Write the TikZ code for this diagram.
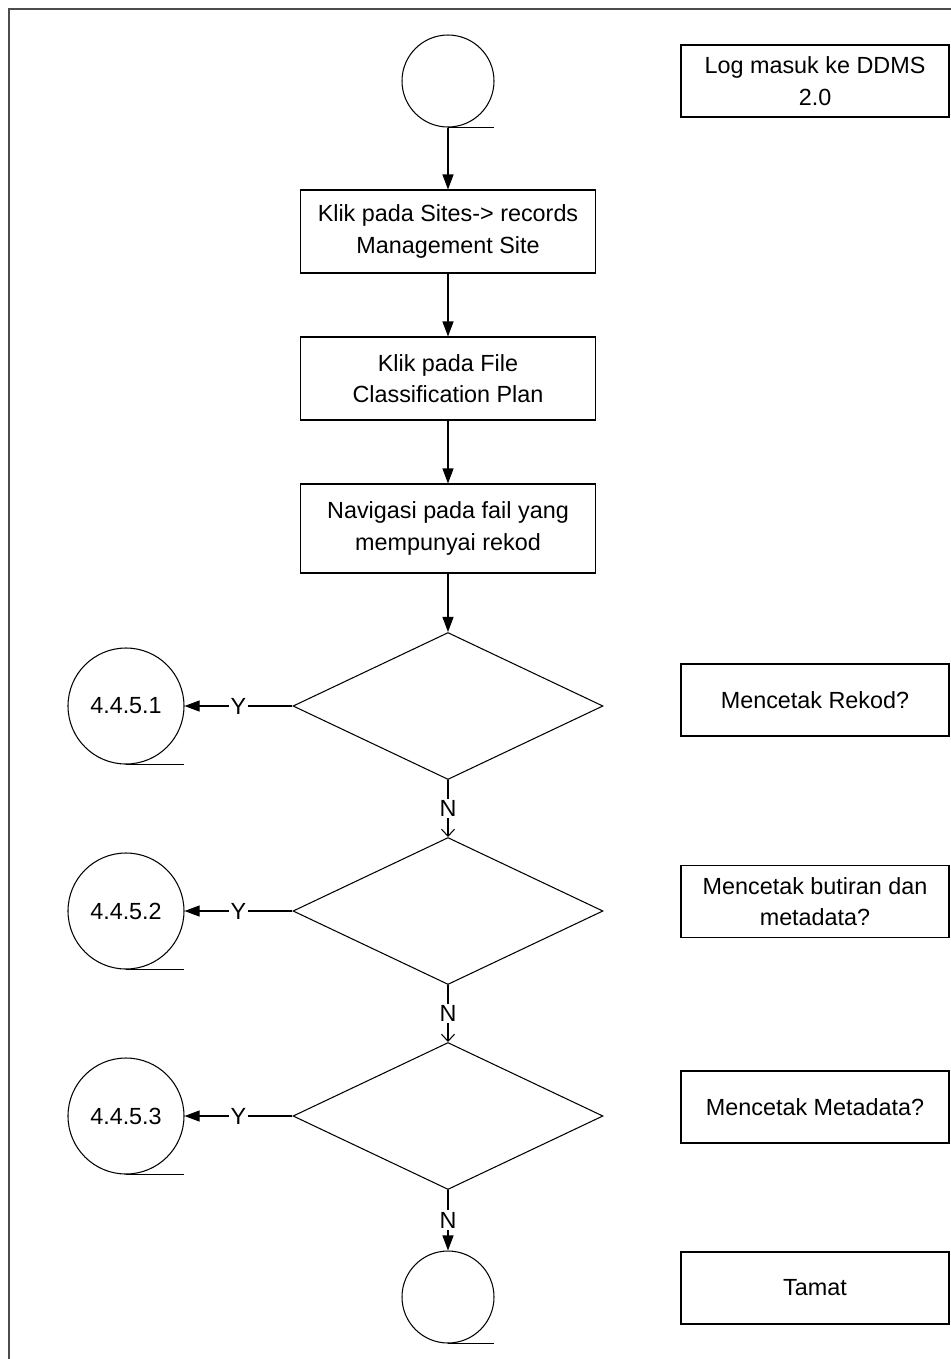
\documentclass[tikz,border=0pt]{standalone}
\usepackage{fontspec}
\setmainfont{Liberation Sans}
\usetikzlibrary{arrows.meta,positioning,shapes.geometric}

\begin{document}
\begin{tikzpicture}[
    font=\fontsize{13.3}{18}\selectfont,
    ln/.style={line width=0.6pt},
    arr/.style={ln, -{Triangle[length=0.3cm,width=0.22cm]}},
    arropen/.style={ln, -{Straight Barb[length=0.14cm,width=0.26cm]}},
    proc/.style={draw, ln, minimum width=5.9cm, minimum height=1.66cm, align=center},
    note/.style={draw, ln, minimum width=5.36cm, minimum height=1.44cm, align=center},
    term/.style={draw, ln, circle, minimum size=1.84cm, inner sep=0pt},
    conn/.style={draw, ln, circle, minimum size=2.32cm, inner sep=0pt},
    dec/.style={draw, ln, diamond, minimum width=6.2cm, minimum height=2.94cm, inner sep=0pt},
    lbl/.style={fill=white, inner sep=1pt}
  ]
    \useasboundingbox (0,0) rectangle (19.02,-27.18);
    \draw[line width=0.9pt, black!70] (0.18,-27.18) -- (0.18,-0.18) -- (19.02,-0.18);

    % --- Main flow ---
    \node[term] (start) at (8.96,-1.62) {};
    \draw[ln] (start.south) -- ++(0.92,0);

    \node[proc] (sites) at (8.96,-4.63) {Klik pada Sites-> records\\Management Site};
    \node[proc] (fcp) at (8.96,-7.57) {Klik pada File\\Classification Plan};
    \node[proc, minimum height=1.78cm] (navi) at (8.96,-10.57) {Navigasi pada fail yang\\mempunyai rekod};

    \node[dec] (q1) at (8.96,-14.12) {};
    \node[dec] (q2) at (8.96,-18.22) {};
    \node[dec] (q3) at (8.96,-22.32) {};

    \node[term] (end) at (8.96,-25.94) {};
    \draw[ln] (end.south) -- ++(0.92,0);

    \draw[arr] (start) -- (sites);
    \draw[arr] (sites) -- (fcp);
    \draw[arr] (fcp) -- (navi);
    \draw[arr] (navi) -- (q1);
    \draw[arropen] (q1) -- node[lbl] {N} (q2);
    \draw[arropen] (q2) -- node[lbl] {N} (q3);
    \draw[arr] (q3) -- node[lbl] {N} (end);

    % --- Connectors ---
    \foreach \i/\y in {1/-14.12, 2/-18.22, 3/-22.32} {
      \node[conn] (c\i) at (2.52,\y) {4.4.5.\i};
      \draw[ln] (c\i.south) -- ++(1.16,0);
      \draw[arr] (q\i) -- node[lbl] {Y} (c\i);
    }

    % --- Notes ---
    \node[note] (nlog) at (16.3,-1.62) {Log masuk ke DDMS\\2.0};
    \node[note] (nrekod) at (16.3,-14.0) {Mencetak Rekod?};
    \node[note] (nbutiran) at (16.3,-18.03) {Mencetak butiran dan\\metadata?};
    \node[note] (nmeta) at (16.3,-22.14) {Mencetak Metadata?};
    \node[note] (ntamat) at (16.3,-25.76) {Tamat};
  \end{tikzpicture}
\end{document}
